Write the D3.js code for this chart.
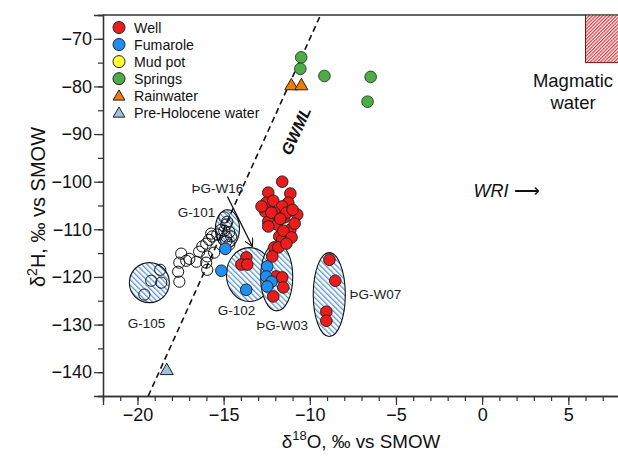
<!DOCTYPE html>
<html>
<head>
<meta charset="utf-8">
<script src="https://cdn.jsdelivr.net/npm/d3@7/dist/d3.min.js"></script>
<style>
  html, body { margin: 0; padding: 0; background: #fff; }
  svg { display: block; font-family: Arial, "Liberation Sans", sans-serif; }
</style>
</head>
<body>
<svg id="chart" width="618" height="457"></svg>
<script>
// Isotope samples: [δ18O, δ2H]
const wells = [
  [-11.60, -100.0], [-12.41, -102.3], [-11.13, -102.5], [-12.52, -104.4],
  [-12.12, -104.0], [-11.25, -104.4], [-11.60, -105.2], [-10.73, -106.9],
  [-12.58, -106.3], [-12.06, -106.5], [-11.48, -107.5], [-12.41, -108.4],
  [-11.89, -109.0], [-11.13, -110.1], [-12.41, -109.4], [-11.77, -111.5],
  [-11.60, -112.2], [-12.06, -113.8], [-11.83, -113.8], [-12.18, -115.7],
  [-12.23, -106.5], [-11.36, -106.5], [-12.80, -105.2], [-11.00, -105.9],
  [-11.71, -107.8], [-10.88, -108.8], [-11.53, -110.3], [-11.06, -111.7],
  [-11.36, -113.0],
  [-11.95, -119.9], [-11.60, -120.1], [-11.54, -122.2], [-12.12, -124.1],
  [-13.68, -115.9], [-13.97, -117.4], [-13.63, -117.4],
  [-8.86, -116.4], [-8.52, -120.8], [-9.04, -127.3], [-9.04, -129.2]
];
const fumaroles = [
  [-14.90, -114.1], [-15.13, -118.7], [-13.69, -122.7], [-12.47, -117.8],
  [-12.53, -119.9], [-12.22, -121.0], [-12.47, -122.0]
];
const mudPots = [];
const springs = [
  [-10.50, -73.9], [-10.55, -76.3], [-9.15, -77.8], [-6.47, -78.0], [-6.65, -83.2]
];
const rainwater = [[-11.07, -79.7], [-10.49, -79.7]];
const preHolocene = [[-18.30, -139.5]];
const otherSamples = [
  [-18.68, -118.5], [-19.20, -120.8], [-18.62, -121.2], [-19.60, -123.7],
  [-17.57, -121.0], [-17.64, -118.9], [-17.57, -117.0], [-17.46, -115.1],
  [-17.17, -116.6], [-16.99, -116.2], [-16.58, -116.8], [-16.42, -114.7],
  [-16.24, -113.6], [-16.01, -113.0], [-15.84, -112.2], [-15.66, -111.5],
  [-15.95, -115.7], [-16.01, -117.0], [-15.95, -118.5], [-15.55, -114.9],
  [-15.72, -110.9], [-15.37, -111.1], [-15.14, -110.1], [-14.85, -109.0],
  [-14.96, -107.5], [-14.79, -108.4], [-14.96, -110.3], [-14.67, -110.6],
  [-14.85, -111.5], [-14.56, -111.5], [-14.85, -112.5], [-14.67, -113.2]
];

// Well groupings: centre [δ18O, δ2H], half-widths in ‰
const groups = [
  { name: "G-105",  cx: -19.31, cy: -121.2, rx: 1.16, ry: 4.2 },
  { name: "G-101",  cx: -14.78, cy: -109.9, rx: 0.70, ry: 4.0 },
  { name: "G-102",  cx: -13.50, cy: -119.5, rx: 1.34, ry: 5.66 },
  { name: "ÞG-W03", cx: -11.92, cy: -120.0, rx: 0.93, ry: 7.13 },
  { name: "ÞG-W07", cx: -8.87,  cy: -123.7, rx: 0.93, ry: 8.8 }
];
const groupLabels = [
  { text: "G-105",  x: -19.48, y: -129.8, anchor: "middle" },
  { text: "G-102",  x: -14.25, y: -127.1, anchor: "middle" },
  { text: "ÞG-W03", x: -11.60, y: -130.2, anchor: "middle" },
  { text: "ÞG-W07", x: -7.70,  y: -123.7, anchor: "start" },
  { text: "G-101",  x: -16.58, y: -106.5, anchor: "middle" },
  { text: "ÞG-W16", x: -15.36, y: -101.3, anchor: "middle" }
];
const w16Arrow = [[-14.78, -103.1], [-13.33, -113.6]];

// Global meteoric water line δ2H = 8·δ18O + 10
const gmwlSlope = 8, gmwlIntercept = 10;
const magmatic = { x0: 6, x1: 10, y0: -75, y1: -65 };

const xTicks = [-20, -15, -10, -5, 0, 5];
const yTicks = [-140, -130, -120, -110, -100, -90, -80, -70];

const svg = d3.select("#chart");
const x = d3.scaleLinear().domain([-22, 8]).range([103, 620]);
const y = d3.scaleLinear().domain([-145, -65]).range([396, 15]);

const defs = svg.append("defs");
const hatchBlue = defs.append("pattern").attr("id", "hatchBlue")
  .attr("patternUnits", "userSpaceOnUse").attr("width", 3.8).attr("height", 3.8)
  .attr("patternTransform", "rotate(-45)");
hatchBlue.append("rect").attr("width", 3.8).attr("height", 3.8).attr("fill", "#fff");
hatchBlue.append("line").attr("x1", 0.7).attr("y1", 0).attr("x2", 0.7).attr("y2", 3.8)
  .attr("stroke", "#4588c8").attr("stroke-width", 1.15);

const hatchRed = defs.append("pattern").attr("id", "hatchRed")
  .attr("patternUnits", "userSpaceOnUse").attr("width", 2.4).attr("height", 2.4)
  .attr("patternTransform", "rotate(45)");
hatchRed.append("rect").attr("width", 2.4).attr("height", 2.4).attr("fill", "#fff");
hatchRed.append("line").attr("x1", 0.6).attr("y1", 0).attr("x2", 0.6).attr("y2", 2.4)
  .attr("stroke", "#e3222b").attr("stroke-width", 1.1);

defs.append("marker").attr("id", "openArrow")
  .attr("viewBox", "0 0 10 10").attr("refX", 9).attr("refY", 5)
  .attr("markerWidth", 9).attr("markerHeight", 9).attr("orient", "auto")
  .attr("markerUnits", "userSpaceOnUse")
  .append("path").attr("d", "M0,0 L9,5 L0,10").attr("fill", "none")
  .attr("stroke", "#111").attr("stroke-width", 1.3);

defs.append("clipPath").attr("id", "plotClip").append("rect")
  .attr("x", x(-22)).attr("y", y(-65)).attr("width", x(8) - x(-22)).attr("height", y(-145) - y(-65));

// Axes
const axisColor = "#333";
const xMinor = d3.range(-22, 9, 1);
const yMinor = d3.range(-145, -64, 5);
const fmt = d => String(d).replace("-", "−");

const gx = svg.append("g").attr("transform", `translate(0,${y(-145)})`);
gx.call(d3.axisBottom(x).tickValues(xMinor).tickSize(5).tickFormat(""));
const gxMaj = svg.append("g").attr("transform", `translate(0,${y(-145)})`)
  .call(d3.axisBottom(x).tickValues(xTicks).tickSize(9).tickPadding(3).tickFormat(fmt));
[gx, gxMaj].forEach(g => {
  g.select(".domain").attr("stroke", axisColor).attr("stroke-width", 1.3);
  g.selectAll(".tick line").attr("stroke", axisColor).attr("stroke-width", 1.2);
  g.selectAll("text").attr("font-size", 18).attr("fill", "#111");
});

const gy = svg.append("g").attr("transform", `translate(${x(-22)},0)`);
gy.call(d3.axisLeft(y).tickValues(yMinor).tickSize(5).tickFormat(""));
const gyMaj = svg.append("g").attr("transform", `translate(${x(-22)},0)`)
  .call(d3.axisLeft(y).tickValues(yTicks).tickSize(9).tickPadding(2).tickFormat(fmt));
[gy, gyMaj].forEach(g => {
  g.select(".domain").attr("stroke", axisColor).attr("stroke-width", 1.3);
  g.selectAll(".tick line").attr("stroke", axisColor).attr("stroke-width", 1.2);
  g.selectAll("text").attr("font-size", 18).attr("fill", "#111");
});

// top frame line
svg.append("line").attr("x1", x(-22)).attr("x2", x(8)).attr("y1", y(-65)).attr("y2", y(-65))
  .attr("stroke", axisColor).attr("stroke-width", 1.3);

const plot = svg.append("g").attr("clip-path", "url(#plotClip)");

// Magmatic water field
plot.append("rect")
  .attr("x", x(magmatic.x0)).attr("y", y(magmatic.y1))
  .attr("width", x(magmatic.x1) - x(magmatic.x0)).attr("height", y(magmatic.y0) - y(magmatic.y1))
  .attr("fill", "url(#hatchRed)").attr("stroke", "#7a1010").attr("stroke-width", 1);

// Well group ellipses
plot.selectAll("ellipse.group").data(groups).join("ellipse").attr("class", "group")
  .attr("cx", d => x(d.cx)).attr("cy", d => y(d.cy))
  .attr("rx", d => x(d.cx + d.rx) - x(d.cx)).attr("ry", d => y(d.cy - d.ry) - y(d.cy))
  .attr("fill", "url(#hatchBlue)").attr("stroke", "#111").attr("stroke-width", 1.1);

// GMWL
plot.append("line")
  .attr("x1", x((-145 - gmwlIntercept) / gmwlSlope)).attr("y1", y(-145))
  .attr("x2", x((-65 - gmwlIntercept) / gmwlSlope)).attr("y2", y(-65))
  .attr("stroke", "#111").attr("stroke-width", 1.6).attr("stroke-dasharray", "6,4");

const angle = Math.atan2(y(-92) - y(-100), x(-12.75) - x(-13.75)) * 180 / Math.PI;
svg.append("text").attr("transform", `translate(${x(-10.8)},${y(-89.35)}) rotate(${angle})`)
  .attr("text-anchor", "middle").attr("dy", "0.35em").attr("font-size", 16).attr("font-weight", "bold")
  .attr("font-style", "italic").attr("fill", "#111").text("GWML");

// Markers
const r = 5.8;
plot.selectAll("circle.other").data(otherSamples).join("circle").attr("class", "other")
  .attr("cx", d => x(d[0])).attr("cy", d => y(d[1])).attr("r", 5.6)
  .attr("fill", "none").attr("stroke", "#111").attr("stroke-width", 1);

plot.selectAll("circle.well").data(wells).join("circle").attr("class", "well")
  .attr("cx", d => x(d[0])).attr("cy", d => y(d[1])).attr("r", r)
  .attr("fill", "#ee1b1b").attr("stroke", "#222").attr("stroke-width", 1);

plot.selectAll("circle.fum").data(fumaroles).join("circle").attr("class", "fum")
  .attr("cx", d => x(d[0])).attr("cy", d => y(d[1])).attr("r", r)
  .attr("fill", "#1f8ff2").attr("stroke", "#222").attr("stroke-width", 1);

plot.selectAll("circle.mud").data(mudPots).join("circle").attr("class", "mud")
  .attr("cx", d => x(d[0])).attr("cy", d => y(d[1])).attr("r", r)
  .attr("fill", "#ffff33").attr("stroke", "#222").attr("stroke-width", 1);

plot.selectAll("circle.spring").data(springs).join("circle").attr("class", "spring")
  .attr("cx", d => x(d[0])).attr("cy", d => y(d[1])).attr("r", r)
  .attr("fill", "#4eab48").attr("stroke", "#2a4a2a").attr("stroke-width", 1);

const tri = d3.symbol().type(d3.symbolTriangle).size(75);
plot.selectAll("path.rain").data(rainwater).join("path").attr("class", "rain")
  .attr("transform", d => `translate(${x(d[0])},${y(d[1]) + 1})`).attr("d", tri)
  .attr("fill", "#f07c00").attr("stroke", "#222").attr("stroke-width", 1);
plot.selectAll("path.pre").data(preHolocene).join("path").attr("class", "pre")
  .attr("transform", d => `translate(${x(d[0])},${y(d[1]) + 1})`).attr("d", tri)
  .attr("fill", "#9cc3dc").attr("stroke", "#222").attr("stroke-width", 1);

// Group labels and arrow
svg.selectAll("text.glab").data(groupLabels).join("text").attr("class", "glab")
  .attr("x", d => x(d.x)).attr("y", d => y(d.y)).attr("dy", "0.35em")
  .attr("text-anchor", d => d.anchor).attr("font-size", 13.5).attr("fill", "#222")
  .text(d => d.text);
svg.append("line")
  .attr("x1", x(w16Arrow[0][0])).attr("y1", y(w16Arrow[0][1]))
  .attr("x2", x(w16Arrow[1][0])).attr("y2", y(w16Arrow[1][1]))
  .attr("stroke", "#111").attr("stroke-width", 1.3).attr("marker-end", "url(#openArrow)");

// Magmatic water & WRI labels
const mag = svg.append("text").attr("text-anchor", "middle").attr("font-size", 18.5).attr("fill", "#111");
mag.append("tspan").attr("x", 573).attr("y", 87).text("Magmatic");
mag.append("tspan").attr("x", 573).attr("y", 109).text("water");

const wri = svg.append("text").attr("x", x(-0.5)).attr("y", y(-101.9)).attr("dy", "0.35em")
  .attr("font-size", 18).attr("fill", "#111");
wri.append("tspan").attr("font-style", "italic").text("WRI");
wri.append("tspan").text(" ⟶");

// Legend
const legendItems = [
  { label: "Well", shape: "circle", fill: "#ee1b1b" },
  { label: "Fumarole", shape: "circle", fill: "#1f8ff2" },
  { label: "Mud pot", shape: "circle", fill: "#ffff33" },
  { label: "Springs", shape: "circle", fill: "#4eab48" },
  { label: "Rainwater", shape: "triangle", fill: "#f07c00" },
  { label: "Pre-Holocene water", shape: "triangle", fill: "#9cc3dc" }
];
const lg = svg.append("g").attr("transform", "translate(119,27.5)");
const li = lg.selectAll("g").data(legendItems).join("g")
  .attr("transform", (d, i) => `translate(0,${i * 17.05})`);
li.filter(d => d.shape === "circle").append("circle").attr("r", 6)
  .attr("fill", d => d.fill).attr("stroke", "#222").attr("stroke-width", 1);
li.filter(d => d.shape === "triangle").append("path")
  .attr("d", d3.symbol().type(d3.symbolTriangle).size(60)).attr("transform", "translate(0,1)")
  .attr("fill", d => d.fill).attr("stroke", "#222").attr("stroke-width", 1);
li.append("text").attr("x", 15).attr("dy", "0.36em").attr("font-size", 14.2).attr("fill", "#111")
  .text(d => d.label);

// Axis titles
const xt = svg.append("text").attr("x", 361).attr("y", 448).attr("text-anchor", "middle")
  .attr("font-size", 18.8).attr("fill", "#111");
xt.append("tspan").text("δ");
xt.append("tspan").attr("font-size", 13).attr("dy", -8).text("18");
xt.append("tspan").attr("dy", 8).text("O, ‰ vs SMOW");

const yt = svg.append("text").attr("transform", "translate(45,207) rotate(-90)")
  .attr("text-anchor", "middle").attr("font-size", 20).attr("fill", "#111");
yt.append("tspan").text("δ");
yt.append("tspan").attr("font-size", 14).attr("dy", -8).text("2");
yt.append("tspan").attr("dy", 8).text("H, ‰ vs SMOW");
</script>
</body>
</html>
